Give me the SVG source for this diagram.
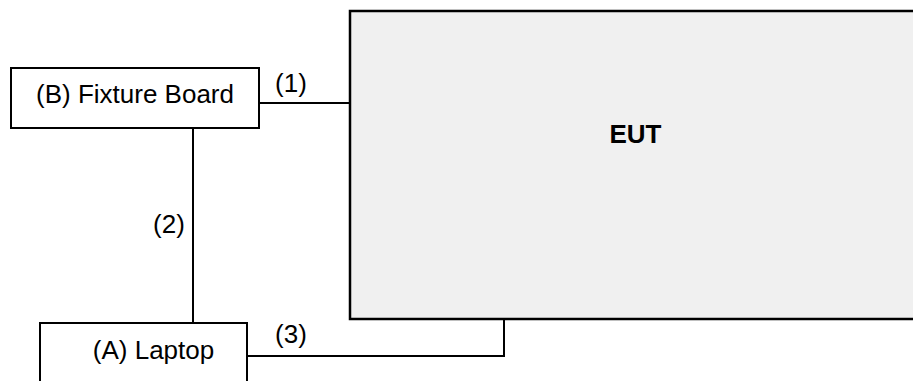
<svg xmlns="http://www.w3.org/2000/svg" width="913" height="381" viewBox="0 0 913 381">
<style>
.box{fill:#ffffff;stroke:#000;stroke-width:2}
.eut{fill:#f0f0f0;stroke:#000;stroke-width:2.5}
.t{font-family:"Liberation Sans",Arial,sans-serif;font-size:26px;fill:#000;text-anchor:middle}
.b{font-weight:bold}
.c{fill:none;stroke:#000;stroke-width:2}
</style>
<rect width="913" height="381" fill="#fff"/>
<g id="eut">
<rect class="eut" x="350" y="11" width="580" height="308"/>
<text class="t b" x="635.5" y="143">EUT</text>
</g>
<g id="fixture">
<rect class="box" x="11" y="68" width="248" height="60"/>
<text class="t" x="135" y="103">(B) Fixture Board</text>
</g>
<g id="laptop">
<rect class="box" x="40" y="323" width="207" height="80"/>
<text class="t" x="153.5" y="359">(A) Laptop</text>
</g>
<g id="connectors">
<path class="c" d="M259 103H350"/>
<path class="c" d="M193 128V323"/>
<path class="c" d="M247 356H504V319"/>
<text class="t" x="291" y="92">(1)</text>
<text class="t" x="169" y="233">(2)</text>
<text class="t" x="291" y="343">(3)</text>
</g>
</svg>
